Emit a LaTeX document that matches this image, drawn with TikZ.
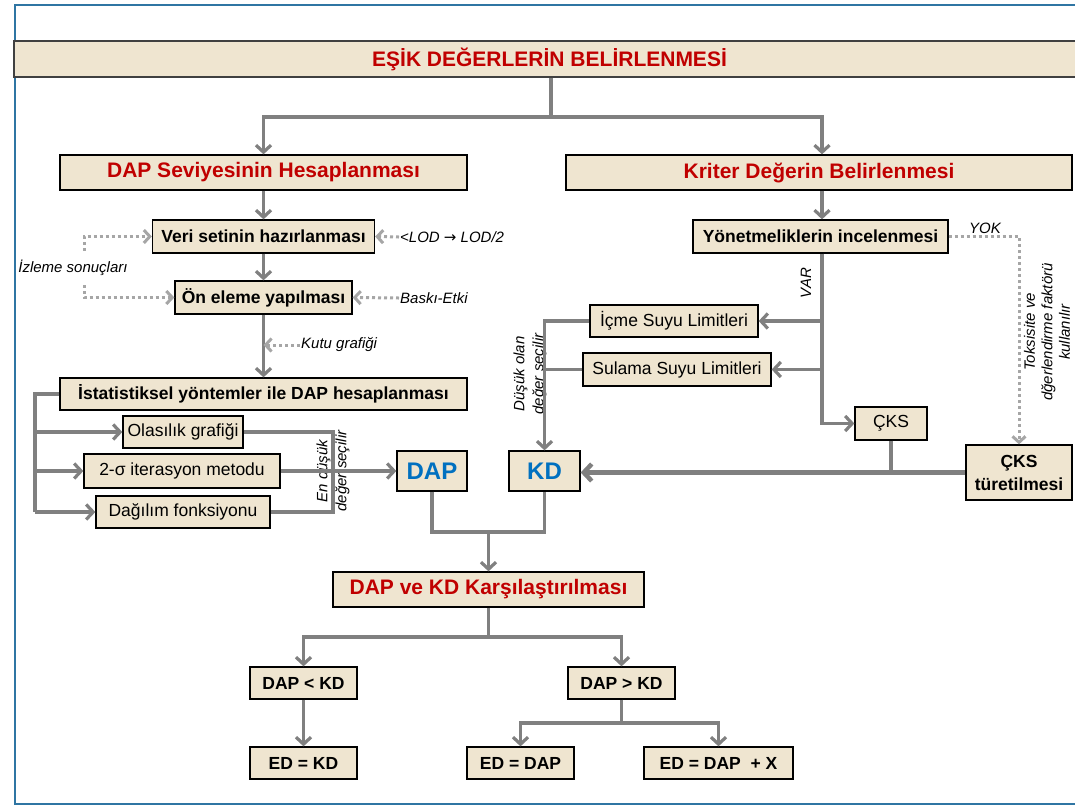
\documentclass[tikz,border=0pt]{standalone}
\usepackage{fontspec}
\setmainfont{Liberation Sans}
\newfontfamily\symfont{DejaVu Sans}
\usetikzlibrary{arrows.meta,calc}
\definecolor{beige}{RGB}{239,229,208}
\definecolor{conn}{RGB}{128,128,128}
\definecolor{dotc}{RGB}{166,166,166}
\definecolor{headred}{RGB}{192,0,0}
\definecolor{valblue}{RGB}{0,112,192}
\definecolor{frameblue}{RGB}{47,117,163}
\definecolor{barborder}{RGB}{64,64,64}
\begin{document}
\begin{tikzpicture}[x=1pt,y=-1pt,
  box/.style={draw=black, fill=beige, line width=1.3pt, inner sep=0pt, align=center},
  bx/.style 2 args={box, minimum width=#1pt, minimum height=#2pt},
  headfont/.style={font=\fontsize{21}{24}\selectfont\bfseries, text=headred},
  boldfont/.style={font=\fontsize{17.5}{20}\selectfont\bfseries},
  plainfont/.style={font=\fontsize{17.5}{20}\selectfont},
  bigfont/.style={font=\fontsize{24}{27}\selectfont\bfseries, text=valblue},
  lab/.style={font=\fontsize{15}{19}\selectfont\itshape, inner sep=1pt, align=center},
  line/.style={draw=conn, line width=3.2pt},
  arr/.style={line, -{Straight Barb[length=7pt,width=15pt]}},
  thickarr/.style={draw=conn, line width=4.5pt, -{Straight Barb[length=8pt,width=17pt]}},
  dotline/.style={draw=dotc, line width=3pt, dash pattern=on 3pt off 3pt},
  dotarr/.style={dotline, -{Straight Barb[length=6pt,width=13pt]}}
]
\useasboundingbox (0,0) rectangle (1075,809);

% outer frame
\draw[frameblue, line width=2.5pt] (15,5) rectangle (1100,804);

% title bar
\node[bx={1071}{36}, draw=barborder, line width=1.8pt, headfont] (title) at (549.5,59) {EŞİK DEĞERLERİN BELİRLENMESİ};

% main branches
\node[bx={407}{35}, headfont] (dapsev) at (263.5,172.5) {DAP Seviyesinin Hesaplanması};
\node[bx={506}{35}, headfont] (kriter) at (819,172.5) {Kriter Değerin Belirlenmesi};

% left column
\node[bx={222}{33}, boldfont] (veri) at (263.5,236.5) {Veri setinin hazırlanması};
\node[bx={177}{33}, boldfont] (onel) at (263.5,297.5) {Ön eleme yapılması};
\node[bx={407}{32}, boldfont] (istat) at (263.5,394) {İstatistiksel yöntemler ile DAP hesaplanması};
\node[bx={120}{32}, plainfont] (olas) at (183,432) {Olasılık grafiği};
\node[bx={196}{34}, plainfont] (sigma) at (182,471) {2-σ iterasyon metodu};
\node[bx={174}{32}, plainfont] (dagil) at (183,512) {Dağılım fonksiyonu};
\node[bx={70}{40}, bigfont] (dap) at (432,471) {DAP};
\node[bx={71}{40}, bigfont] (kd) at (544.5,471) {KD};

% right column
\node[bx={255}{33}, boldfont] (yonet) at (820.5,236.5) {Yönetmeliklerin incelenmesi};
\node[bx={168}{32}, plainfont] (icme) at (674,321) {İçme Suyu Limitleri};
\node[bx={188}{33}, plainfont] (sulama) at (677,369.5) {Sulama Suyu Limitleri};
\node[bx={72}{33}, plainfont] (cks) at (891,423.5) {ÇKS};
\node[bx={106}{55}, font=\fontsize{17.5}{23}\selectfont\bfseries] (ckst) at (1019,472.5) {ÇKS\\türetilmesi};

% comparison
\node[bx={311}{35}, headfont] (comp) at (488.5,589.5) {DAP ve KD Karşılaştırılması};
\node[bx={107}{32}, boldfont] (lt) at (303.5,683) {DAP < KD};
\node[bx={107}{32}, boldfont] (gt) at (621.5,683) {DAP > KD};
\node[bx={107}{32}, boldfont] (edkd) at (303.5,763) {ED = KD};
\node[bx={107}{32}, boldfont] (eddap) at (520.5,763) {ED = DAP};
\node[bx={149}{32}, boldfont] (eddapx) at (718.5,763) {ED = DAP \ + X};

% side labels
\node[lab] (izleme) at (73,268) {İzleme sonuçları};
\node[lab, anchor=west] (lod) at (399,237) {<LOD {\symfont\upshape →} LOD/2};
\node[lab, anchor=west] (baski) at (399,298) {Baskı-Etki};
\node[lab, anchor=west] (kutu) at (300,345) {Kutu grafiği};
\node[lab] (yok) at (985,228) {YOK};
\node[lab, rotate=90] (var) at (806,283) {VAR};
\node[lab, rotate=90] (dusuk) at (530,374) {Düşük olan\\değer seçilir};
\node[lab, rotate=90] (endusuk) at (333,471) {En düşük\\değer seçilir};
\node[lab, rotate=90, font=\fontsize{15}{17.5}\selectfont\itshape] (toks) at (1047,332) {Toksisite ve\\dğerlendirme faktörü\\kullanılır};

% junction points
\coordinate (tj) at (551,117);
\coordinate (kutuhit) at (263.5,345);
\coordinate (bus) at (35,0);
\coordinate (mrg) at (333,0);
\coordinate (dk) at (488.5,532);
\coordinate (cj) at (488.5,637);
\coordinate (gj) at (621.5,723);
\coordinate (vbus) at (822,0);
\coordinate (iz1) at (84,251);
\coordinate (iz2) at (84,285);

% title to branches
\draw[line] (title.south -| tj) -- (tj);
\draw[arr] (tj) -| (dapsev.north);
\draw[arr] (tj) -| (kriter.north -| vbus);

% left column flow
\draw[arr] (dapsev.south) -- (veri.north);
\draw[arr] (veri.south) -- (onel.north);
\draw[arr] (onel.south) -- (istat.north);
\draw[dotarr] (kutu.west) -- (kutuhit);
\draw[dotarr] (lod.west) -- (veri.east);
\draw[dotarr] (baski.west) -- (onel.east);
\draw[dotarr] (iz1) |- (veri.west);
\draw[dotarr] (iz2) |- (onel.west);

% statistical methods
\draw[line] (istat.west) -- (bus |- istat.west) -- (bus |- dagil.west);
\draw[arr] (bus |- olas.west) -- (olas.west);
\draw[arr] (bus |- sigma.west) -- (sigma.west);
\draw[arr] (bus |- dagil.west) -- (dagil.west);
\draw[line] (olas.east) -- (mrg |- olas.east) -- (mrg |- dagil.east) -- (dagil.east);
\draw[arr] (sigma.east) -- (dap.west);

% right column flow
\draw[arr] (kriter.south -| vbus) -- (yonet.north -| vbus);
\draw[arr] (yonet.south -| vbus) |- (cks.west);
\draw[arr] (vbus |- icme.east) -- (icme.east);
\draw[arr] (vbus |- sulama.east) -- (sulama.east);
\draw[arr] (icme.west) -| (kd.north);
\draw[line] (sulama.west) -- (kd.north |- sulama.west);
\draw[dotarr] (yonet.east) -| (ckst.north);
\draw[line] (cks.south) -- (cks.south |- ckst.west);
\draw[thickarr] (ckst.west) -- (kd.east |- ckst.west);

% comparison flow
\draw[line] (dap.south) |- (dk) -| (kd.south);
\draw[arr] (dk) -- (comp.north);
\draw[line] (comp.south) -- (cj);
\draw[arr] (cj) -| (lt.north);
\draw[arr] (cj) -| (gt.north);
\draw[arr] (lt.south) -- (edkd.north);
\draw[line] (gt.south) -- (gj);
\draw[arr] (gj) -| (eddap.north);
\draw[arr] (gj) -| (eddapx.north);
\end{tikzpicture}
\end{document}
